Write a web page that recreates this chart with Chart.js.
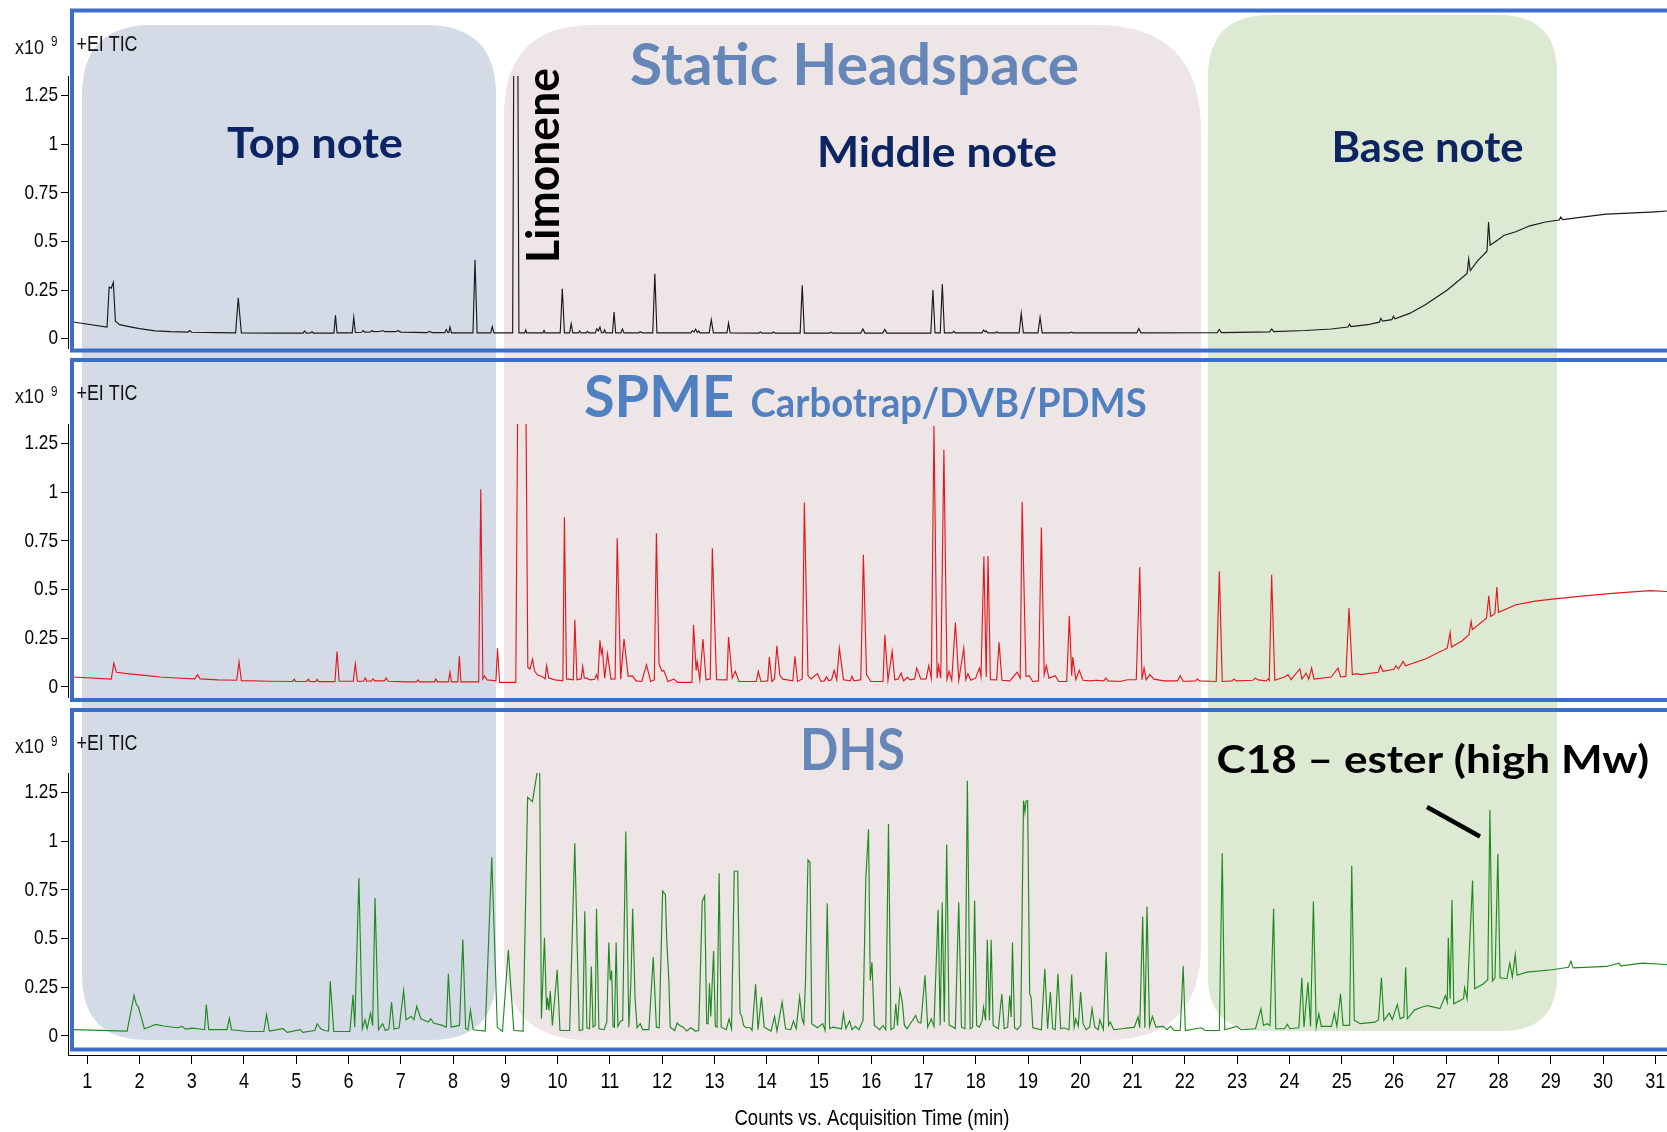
<!DOCTYPE html>
<html><head><meta charset="utf-8">
<script src="https://cdn.jsdelivr.net/npm/chart.js@4/dist/chart.umd.min.js"></script>
<style>
html,body{margin:0;padding:0;background:#fff;width:1667px;height:1132px;overflow:hidden;}
canvas{position:absolute;left:0;}
</style></head><body>
<canvas id="bg" width="1667" height="1132" style="top:0"></canvas>
<canvas id="c1" width="1667" height="354" style="top:0"></canvas>
<canvas id="c2" width="1667" height="350" style="top:354px"></canvas>
<canvas id="c3" width="1667" height="428" style="top:704px"></canvas>
<script>
// ---------------- data (time in min, counts in 1e9) ----------------
const timeTicks = [1,2,3,4,5,6,7,8,9,10,11,12,13,14,15,16,17,18,19,20,21,22,23,24,25,26,27,28,29,30,31];
const countTicks = [0,0.25,0.5,0.75,1,1.25];
const panelNames = ['Static Headspace','SPME','DHS'];

const shsTrace = [[0.73,0.086],[1.38,0.06],[1.42,0.265],[1.46,0.26],[1.50,0.29],[1.54,0.09],[1.62,0.072],[1.8,0.062],[2.0,0.052],[2.3,0.04],[2.6,0.036],[2.93,0.034],[2.96,0.042],[3.0,0.033],[3.5,0.031],[3.84,0.03],[3.89,0.21],[3.95,0.03],[4.6,0.029],[5.13,0.029],[5.16,0.04],[5.19,0.029],[5.27,0.03],[5.30,0.036],[5.33,0.029],[5.72,0.029],[5.75,0.12],[5.78,0.03],[6.07,0.03],[6.10,0.11],[6.13,0.032],[6.25,0.033],[6.28,0.042],[6.31,0.034],[6.42,0.035],[6.45,0.042],[6.48,0.036],[6.6,0.037],[6.65,0.042],[6.7,0.036],[6.9,0.036],[6.95,0.041],[7.0,0.034],[7.5,0.031],[7.55,0.037],[7.6,0.031],[7.84,0.031],[7.87,0.047],[7.9,0.031],[7.92,0.032],[7.94,0.06],[7.97,0.03],[8.38,0.03],[8.42,0.405],[8.46,0.03],[8.72,0.03],[8.75,0.062],[8.78,0.03],[9.14,0.03],[9.16,1.4],[9.24,1.4],[9.26,0.03],[9.37,0.03],[9.39,0.045],[9.41,0.03],[9.72,0.03],[9.74,0.042],[9.76,0.03],[10.05,0.03],[10.09,0.257],[10.13,0.03],[10.23,0.03],[10.26,0.077],[10.29,0.03],[10.4,0.03],[10.42,0.04],[10.45,0.03],[10.55,0.03],[10.57,0.038],[10.6,0.03],[10.72,0.03],[10.75,0.05],[10.78,0.04],[10.81,0.06],[10.84,0.03],[10.88,0.032],[10.9,0.045],[10.92,0.03],[11.05,0.03],[11.08,0.137],[11.11,0.03],[11.21,0.03],[11.24,0.05],[11.27,0.03],[11.55,0.03],[11.58,0.036],[11.62,0.03],[11.82,0.03],[11.86,0.334],[11.9,0.03],[12.55,0.03],[12.58,0.042],[12.61,0.034],[12.64,0.05],[12.67,0.032],[12.7,0.04],[12.72,0.03],[12.9,0.03],[12.94,0.098],[12.98,0.03],[13.24,0.03],[13.27,0.08],[13.3,0.03],[13.85,0.029],[13.88,0.035],[13.91,0.029],[14.1,0.029],[14.13,0.035],[14.16,0.029],[14.64,0.029],[14.68,0.274],[14.72,0.029],[15.2,0.029],[15.23,0.034],[15.26,0.029],[15.8,0.029],[15.84,0.05],[15.88,0.029],[16.22,0.029],[16.26,0.048],[16.3,0.029],[17.14,0.029],[17.18,0.25],[17.22,0.03],[17.32,0.03],[17.36,0.28],[17.4,0.03],[17.55,0.03],[17.58,0.038],[17.61,0.03],[18.12,0.03],[18.15,0.045],[18.18,0.035],[18.2,0.04],[18.23,0.03],[18.38,0.03],[18.4,0.036],[18.43,0.03],[18.83,0.03],[18.87,0.13],[18.91,0.03],[19.19,0.03],[19.23,0.11],[19.27,0.03],[19.8,0.03],[19.83,0.034],[19.86,0.03],[21.08,0.03],[21.12,0.052],[21.16,0.03],[22.62,0.031],[22.66,0.047],[22.7,0.031],[23.62,0.035],[23.66,0.05],[23.7,0.036],[24.3,0.042],[24.8,0.05],[25.12,0.06],[25.15,0.075],[25.18,0.062],[25.5,0.072],[25.72,0.085],[25.75,0.105],[25.78,0.09],[25.96,0.098],[25.99,0.115],[26.02,0.102],[26.3,0.13],[26.6,0.175],[26.8,0.21],[27.02,0.25],[27.2,0.29],[27.4,0.335],[27.43,0.41],[27.46,0.35],[27.6,0.40],[27.78,0.45],[27.81,0.60],[27.84,0.48],[28.0,0.51],[28.1,0.53],[28.33,0.55],[28.6,0.58],[28.9,0.60],[29.16,0.61],[29.19,0.625],[29.23,0.612],[29.6,0.625],[30.06,0.64],[30.5,0.645],[31.0,0.652],[31.22,0.656]];

const spmeTrace = [[0.73,0.05],[1.46,0.039],[1.51,0.121],[1.56,0.074],[1.8,0.066],[2.1,0.058],[2.39,0.05],[2.7,0.045],[3.06,0.04],[3.11,0.062],[3.16,0.04],[3.5,0.035],[3.86,0.033],[3.905,0.127],[3.95,0.031],[4.5,0.028],[4.93,0.027],[4.96,0.038],[4.99,0.027],[5.2,0.027],[5.23,0.038],[5.26,0.027],[5.37,0.026],[5.4,0.038],[5.43,0.026],[5.74,0.026],[5.78,0.181],[5.82,0.028],[6.09,0.028],[6.13,0.118],[6.17,0.028],[6.29,0.028],[6.32,0.045],[6.35,0.028],[6.44,0.03],[6.47,0.04],[6.5,0.03],[6.69,0.03],[6.72,0.045],[6.76,0.028],[7.1,0.025],[7.3,0.025],[7.33,0.035],[7.36,0.025],[7.64,0.025],[7.67,0.04],[7.7,0.025],[7.91,0.025],[7.94,0.074],[7.97,0.025],[8.09,0.025],[8.12,0.156],[8.15,0.025],[8.49,0.025],[8.53,1.015],[8.57,0.04],[8.6,0.056],[8.65,0.035],[8.82,0.03],[8.85,0.198],[8.89,0.022],[9.2,0.022],[9.235,1.4],[9.395,1.4],[9.43,0.10],[9.47,0.09],[9.52,0.142],[9.56,0.079],[9.62,0.06],[9.70,0.053],[9.76,0.04],[9.79,0.108],[9.83,0.044],[9.95,0.035],[10.1,0.03],[10.13,0.871],[10.17,0.04],[10.3,0.035],[10.33,0.344],[10.37,0.035],[10.45,0.04],[10.48,0.104],[10.51,0.044],[10.56,0.044],[10.62,0.035],[10.71,0.038],[10.74,0.062],[10.77,0.04],[10.81,0.238],[10.835,0.17],[10.856,0.193],[10.9,0.044],[10.955,0.169],[11.02,0.039],[11.1,0.04],[11.14,0.763],[11.206,0.039],[11.27,0.245],[11.35,0.053],[11.43,0.056],[11.5,0.03],[11.61,0.027],[11.70,0.113],[11.78,0.027],[11.85,0.035],[11.89,0.789],[11.94,0.12],[11.976,0.091],[12.0,0.08],[12.03,0.084],[12.11,0.027],[12.22,0.039],[12.3,0.022],[12.57,0.022],[12.60,0.318],[12.65,0.084],[12.67,0.13],[12.72,0.036],[12.78,0.245],[12.84,0.036],[12.92,0.04],[12.96,0.712],[13.04,0.036],[13.24,0.035],[13.27,0.255],[13.34,0.044],[13.40,0.079],[13.47,0.027],[13.8,0.027],[13.84,0.079],[13.89,0.027],[14.02,0.03],[14.05,0.152],[14.1,0.027],[14.15,0.04],[14.195,0.21],[14.25,0.06],[14.31,0.039],[14.5,0.03],[14.54,0.156],[14.59,0.027],[14.68,0.04],[14.72,0.946],[14.79,0.056],[14.85,0.04],[14.97,0.067],[15.04,0.027],[15.1,0.03],[15.145,0.05],[15.19,0.03],[15.24,0.035],[15.29,0.084],[15.34,0.036],[15.39,0.198],[15.47,0.036],[15.6,0.03],[15.63,0.053],[15.67,0.03],[15.80,0.036],[15.85,0.678],[15.91,0.062],[15.995,0.027],[16.225,0.027],[16.26,0.267],[16.32,0.033],[16.40,0.181],[16.45,0.036],[16.52,0.04],[16.57,0.07],[16.62,0.03],[16.69,0.048],[16.75,0.035],[16.83,0.04],[16.87,0.096],[16.95,0.039],[17.05,0.04],[17.10,0.108],[17.15,0.044],[17.20,1.34],[17.26,0.044],[17.29,0.108],[17.33,0.044],[17.39,1.217],[17.45,0.039],[17.49,0.079],[17.54,0.033],[17.61,0.33],[17.675,0.033],[17.77,0.198],[17.81,0.036],[17.85,0.067],[17.905,0.033],[18.0,0.045],[18.07,0.096],[18.10,0.053],[18.155,0.669],[18.20,0.05],[18.234,0.672],[18.28,0.036],[18.4,0.035],[18.445,0.228],[18.5,0.033],[18.65,0.03],[18.79,0.074],[18.85,0.044],[18.887,0.951],[18.96,0.053],[19.025,0.056],[19.09,0.027],[19.2,0.03],[19.255,0.818],[19.31,0.062],[19.35,0.108],[19.40,0.044],[19.52,0.056],[19.585,0.027],[19.74,0.027],[19.79,0.364],[19.835,0.056],[19.855,0.152],[19.915,0.036],[19.98,0.084],[20.05,0.033],[20.2,0.03],[20.3,0.033],[20.45,0.03],[20.49,0.045],[20.53,0.03],[20.76,0.027],[20.9,0.036],[21.07,0.036],[21.137,0.614],[21.18,0.036],[21.22,0.096],[21.26,0.036],[21.33,0.062],[21.41,0.039],[21.6,0.03],[21.86,0.03],[21.91,0.056],[21.97,0.027],[22.2,0.03],[22.24,0.039],[22.28,0.03],[22.6,0.027],[22.66,0.592],[22.715,0.027],[22.9,0.03],[22.94,0.039],[22.98,0.03],[23.3,0.033],[23.35,0.044],[23.4,0.035],[23.55,0.03],[23.6,0.04],[23.615,0.033],[23.66,0.575],[23.72,0.033],[23.905,0.05],[23.975,0.062],[24.03,0.036],[24.20,0.091],[24.24,0.039],[24.32,0.07],[24.37,0.039],[24.425,0.096],[24.47,0.039],[24.80,0.05],[24.93,0.096],[24.98,0.05],[25.08,0.053],[25.14,0.404],[25.205,0.062],[25.30,0.067],[25.36,0.062],[25.70,0.074],[25.74,0.108],[25.79,0.079],[26.0,0.09],[26.04,0.108],[26.085,0.091],[26.175,0.13],[26.22,0.108],[26.6,0.142],[27.02,0.198],[27.075,0.279],[27.10,0.204],[27.3,0.235],[27.435,0.267],[27.476,0.335],[27.50,0.293],[27.77,0.352],[27.815,0.467],[27.85,0.361],[27.93,0.375],[27.97,0.512],[28.00,0.382],[28.335,0.421],[28.7,0.44],[29.03,0.45],[29.5,0.463],[30.065,0.477],[30.5,0.486],[30.90,0.494],[31.23,0.489]];

const dhsTrace = [[0.73,0.031],[1.764,0.024],[1.896,0.207],[1.942,0.16],[1.98,0.147],[2.094,0.036],[2.19,0.045],[2.31,0.058],[2.456,0.05],[2.72,0.041],[2.818,0.048],[2.884,0.034],[3.016,0.039],[3.246,0.031],[3.279,0.16],[3.325,0.031],[3.675,0.031],[3.721,0.09],[3.76,0.031],[4.07,0.022],[4.38,0.022],[4.432,0.109],[4.485,0.024],[4.748,0.036],[4.827,0.017],[5.078,0.031],[5.124,0.017],[5.355,0.027],[5.40,0.062],[5.473,0.034],[5.552,0.027],[5.618,0.024],[5.65,0.281],[5.717,0.022],[6.026,0.022],[6.086,0.21],[6.119,0.044],[6.198,0.811],[6.264,0.036],[6.316,0.082],[6.356,0.036],[6.422,0.116],[6.461,0.053],[6.507,0.708],[6.573,0.031],[6.652,0.062],[6.705,0.027],[6.771,0.034],[6.823,0.173],[6.87,0.034],[6.968,0.041],[7.054,0.233],[7.10,0.082],[7.199,0.099],[7.252,0.082],[7.304,0.151],[7.383,0.087],[7.528,0.07],[7.574,0.087],[7.627,0.065],[7.792,0.053],[7.871,0.044],[7.91,0.318],[7.963,0.044],[8.122,0.053],[8.187,0.494],[8.24,0.036],[8.286,0.031],[8.332,0.13],[8.385,0.031],[8.615,0.024],[8.74,0.917],[8.846,0.044],[8.945,0.022],[9.057,0.44],[9.162,0.027],[9.34,0.024],[9.426,1.225],[9.518,1.203],[9.604,1.345],[9.656,1.4],[9.69,0.087],[9.748,0.503],[9.788,0.133],[9.808,0.195],[9.834,0.13],[9.86,0.23],[9.90,0.053],[9.953,0.216],[9.992,0.339],[10.045,0.027],[10.23,0.027],[10.328,0.989],[10.414,0.027],[10.48,0.031],[10.52,0.64],[10.56,0.041],[10.61,0.036],[10.645,0.356],[10.678,0.044],[10.718,0.053],[10.744,0.652],[10.79,0.036],[10.89,0.031],[10.94,0.07],[10.98,0.479],[11.008,0.284],[11.034,0.335],[11.06,0.048],[11.087,0.044],[11.12,0.479],[11.153,0.048],[11.205,0.075],[11.245,0.079],[11.304,1.05],[11.363,0.044],[11.403,0.284],[11.436,0.652],[11.482,0.19],[11.52,0.041],[11.58,0.062],[11.627,0.031],[11.746,0.031],[11.83,0.404],[11.89,0.044],[11.943,0.041],[12.009,0.743],[12.062,0.725],[12.088,0.489],[12.128,0.284],[12.154,0.044],[12.24,0.027],[12.286,0.065],[12.34,0.053],[12.404,0.044],[12.47,0.024],[12.55,0.041],[12.635,0.024],[12.70,0.027],[12.767,0.691],[12.813,0.719],[12.852,0.062],[12.879,0.062],[12.905,0.27],[12.93,0.099],[12.984,0.435],[13.017,0.048],[13.05,0.044],[13.09,0.835],[13.13,0.044],[13.228,0.031],[13.28,0.087],[13.327,0.036],[13.379,0.845],[13.445,0.845],[13.49,0.116],[13.524,0.099],[13.557,0.053],[13.603,0.041],[13.689,0.041],[13.72,0.027],[13.788,0.264],[13.834,0.031],[13.90,0.20],[13.952,0.044],[14.084,0.024],[14.15,0.099],[14.196,0.024],[14.295,0.173],[14.36,0.036],[14.46,0.031],[14.512,0.075],[14.565,0.036],[14.63,0.20],[14.677,0.087],[14.71,0.062],[14.743,0.284],[14.79,0.903],[14.829,0.891],[14.862,0.062],[14.908,0.053],[14.974,0.041],[15.072,0.062],[15.118,0.027],[15.158,0.681],[15.204,0.036],[15.27,0.044],[15.43,0.035],[15.468,0.116],[15.514,0.036],[15.586,0.075],[15.632,0.031],[15.698,0.048],[15.764,0.031],[15.843,0.079],[15.896,0.806],[15.948,1.06],[15.981,0.284],[16.014,0.378],[16.06,0.053],[16.16,0.031],[16.225,0.053],[16.278,0.031],[16.33,1.088],[16.377,0.031],[16.436,0.041],[16.469,0.164],[16.502,0.053],[16.548,0.236],[16.594,0.173],[16.634,0.053],[16.686,0.036],[16.85,0.104],[16.897,0.07],[16.95,0.065],[17.029,0.31],[17.08,0.044],[17.148,0.087],[17.2,0.048],[17.279,0.647],[17.319,0.053],[17.358,0.686],[17.398,0.07],[17.444,0.982],[17.49,0.053],[17.543,0.048],[17.608,0.036],[17.674,0.686],[17.727,0.044],[17.793,0.036],[17.839,1.31],[17.892,0.036],[17.938,0.044],[17.978,0.695],[18.017,0.053],[18.07,0.044],[18.122,0.079],[18.149,0.147],[18.188,0.079],[18.221,0.493],[18.261,0.079],[18.294,0.493],[18.333,0.053],[18.432,0.036],[18.498,0.216],[18.544,0.036],[18.61,0.044],[18.65,0.207],[18.676,0.096],[18.702,0.479],[18.742,0.041],[18.794,0.031],[18.86,0.053],[18.913,1.208],[18.94,1.148],[18.959,1.205],[18.992,1.208],[19.031,0.216],[19.058,0.198],[19.091,0.041],[19.255,0.031],[19.321,0.344],[19.374,0.036],[19.427,0.224],[19.473,0.036],[19.519,0.031],[19.572,0.318],[19.624,0.036],[19.684,0.041],[19.783,0.031],[19.835,0.315],[19.881,0.044],[19.914,0.087],[19.96,0.048],[20.006,0.224],[20.053,0.062],[20.112,0.031],[20.178,0.044],[20.224,0.139],[20.277,0.044],[20.342,0.031],[20.375,0.082],[20.441,0.031],[20.494,0.43],[20.54,0.053],[20.573,0.07],[20.64,0.031],[20.79,0.036],[21.033,0.044],[21.103,0.096],[21.137,0.041],[21.193,0.613],[21.234,0.041],[21.276,0.664],[21.324,0.048],[21.379,0.099],[21.449,0.044],[21.587,0.048],[21.656,0.031],[21.725,0.048],[21.795,0.027],[21.912,0.027],[21.968,0.358],[22.009,0.027],[22.314,0.041],[22.383,0.027],[22.66,0.027],[22.715,0.938],[22.763,0.031],[22.992,0.048],[23.075,0.031],[23.352,0.036],[23.456,0.139],[23.504,0.053],[23.573,0.062],[23.629,0.053],[23.698,0.652],[23.739,0.036],[23.905,0.036],[23.961,0.058],[24.009,0.036],[24.182,0.041],[24.238,0.298],[24.279,0.044],[24.355,0.275],[24.404,0.048],[24.459,0.69],[24.514,0.044],[24.563,0.113],[24.611,0.048],[24.805,0.048],[24.86,0.116],[24.909,0.048],[24.978,0.216],[25.027,0.053],[25.151,0.053],[25.193,0.874],[25.241,0.079],[25.359,0.062],[25.636,0.07],[25.705,0.082],[25.76,0.298],[25.808,0.079],[25.912,0.116],[25.968,0.082],[26.065,0.161],[26.12,0.087],[26.189,0.096],[26.224,0.352],[26.258,0.087],[26.397,0.133],[26.5,0.144],[26.639,0.155],[26.881,0.139],[26.985,0.207],[27.02,0.172],[27.04,0.503],[27.075,0.19],[27.11,0.698],[27.144,0.164],[27.331,0.19],[27.352,0.246],[27.4,0.19],[27.504,0.797],[27.546,0.241],[27.712,0.267],[27.795,0.288],[27.836,1.16],[27.885,0.281],[27.933,0.298],[27.988,0.934],[28.03,0.298],[28.161,0.293],[28.217,0.373],[28.265,0.301],[28.32,0.417],[28.355,0.311],[28.542,0.327],[29.026,0.339],[29.338,0.352],[29.386,0.383],[29.428,0.349],[30.065,0.356],[30.307,0.373],[30.342,0.359],[30.757,0.373],[31.227,0.366]];

// ---------------- layout / style ----------------
const X_MIN = 0.633, X_MAX = 31.224;
const SANS = "'Liberation Sans',Arial,sans-serif";
const NARROW_K = 0.82;
const TITLEF = "Lato,'Open Sans',sans-serif";
const FRAME = '#3a6ec8';

// background note boxes
(function(){
  const c = document.getElementById('bg').getContext('2d');
  function rr(x0,y0,x1,y1,r,col){
    const [tl,tr,br,bl]=r;
    c.beginPath();
    c.moveTo(x0+tl,y0); c.lineTo(x1-tr,y0); c.quadraticCurveTo(x1,y0,x1,y0+tr);
    c.lineTo(x1,y1-br); c.quadraticCurveTo(x1,y1,x1-br,y1);
    c.lineTo(x0+bl,y1); c.quadraticCurveTo(x0,y1,x0,y1-bl);
    c.lineTo(x0,y0+tl); c.quadraticCurveTo(x0,y0,x0+tl,y0);
    c.closePath(); c.fillStyle=col; c.fill();
  }
  c.save(); c.shadowColor='rgba(255,255,255,0.9)'; c.shadowBlur=6;
  rr(82,25,496,1040,[70,70,65,65],'#d4dbe7');
  rr(504,25,1201,1040,[90,105,95,85],'#ede5e6');
  rr(1208,15,1557,1031,[62,58,55,55],'#dde9d3');
  c.restore();
})();

function fitText(ctx,text,x,y,w,size,color,weight,family,rot,baseline){
  ctx.save();
  ctx.font = weight+' '+size+'px '+family;
  const m = ctx.measureText(text).width;
  ctx.translate(x,y); if(rot) ctx.rotate(rot);
  ctx.scale(w/m,1);
  ctx.fillStyle=color; ctx.textAlign='left'; ctx.textBaseline=baseline||'alphabetic';
  ctx.fillText(text,0,0);
  ctx.restore();
}

// tick labels drawn from Chart.js label items, in a narrow (condensed) rendering
function narrowLabels(chartArea){
  const ctx = this.ctx;
  const items = this.getLabelItems(chartArea);
  for (const item of items){
    const o = item.options;
    ctx.save();
    ctx.translate(o.translation[0], o.translation[1]);
    if (o.rotation) ctx.rotate(o.rotation);
    ctx.scale(NARROW_K,1);
    ctx.font = item.font.string;
    ctx.fillStyle = o.color;
    ctx.textAlign = o.textAlign;
    ctx.textBaseline = o.textBaseline;
    ctx.fillText(item.label, 0, item.textOffset);
    ctx.restore();
  }
}
function narrowTitle(){
  const t = this.options.title;
  if (!t.display) return;
  const ctx = this.ctx;
  ctx.save();
  ctx.font = 'normal '+t.font.size+'px '+SANS;
  const m = ctx.measureText(t.text).width;
  const w = 275, cx = 872, cy = this.bottom - 13.5;
  ctx.translate(cx - w/2, cy);
  ctx.scale(w/m,1);
  ctx.fillStyle = t.color; ctx.textAlign='left'; ctx.textBaseline='middle';
  ctx.fillText(t.text,0,0);
  ctx.restore();
}

function panelPlugin(top, frameTop, frameBottom, extra){
  return {
    id:'deco',
    afterDraw(chart){
      const ctx = chart.ctx;
      ctx.save();
      ctx.translate(0,-top);
      ctx.strokeStyle=FRAME; ctx.lineWidth=4;
      ctx.strokeRect(72,frameTop,1640,frameBottom-frameTop);
      fitText(ctx,'x10',15,frameTop+43,29,21,'#111','normal',SANS);
      fitText(ctx,'9',51,frameTop+35.5,6.5,15,'#111','normal',SANS);
      fitText(ctx,'+EI TIC',76.5,frameTop+40,61,22,'#111','normal',SANS);
      extra(ctx);
      ctx.restore();
    }
  };
}

function makeChart(id, trace, color, cfg){
  const xScale = {
    type:'linear', min:X_MIN, max:X_MAX, display:cfg.showX,
    border:{display:true,color:'#000',width:1},
    grid:{drawOnChartArea:false,drawTicks:true,tickLength:9,color:'#000'},
    ticks:{font:{family:SANS,size:22},color:'#000',padding:5,autoSkip:false,maxRotation:0,callback:v=>String(v)},
    title:{display:cfg.showX,text:'Counts vs. Acquisition Time (min)',font:{family:SANS,size:22},color:'#000',padding:{top:0,bottom:2}},
    afterBuildTicks:s=>{s.ticks=timeTicks.map(v=>({value:v}));},
    afterFit:s=>{ if(cfg.showX){s.height=cfg.xHeight;} s.paddingLeft=0; s.paddingRight=0; },
    afterUpdate:s=>{ s.drawLabels=narrowLabels; s.drawTitle=narrowTitle; }
  };
  return new Chart(document.getElementById(id),{
    type:'line',
    data:{datasets:[{label:cfg.name,data:trace.map(p=>({x:p[0],y:p[1]})),borderColor:color,borderWidth:1.15,pointRadius:0,tension:0,fill:false}]},
    options:{
      responsive:false, animation:false, events:[], normalized:true,
      layout:{padding:{top:cfg.padTop,bottom:cfg.padBottom,left:0,right:0}},
      plugins:{legend:{display:false},tooltip:{enabled:false},title:{display:false}},
      scales:{
        x:xScale,
        y:{type:'linear',min:cfg.yMin,max:1.35,
          border:{display:true,color:'#000',width:1},
          grid:{drawOnChartArea:false,drawTicks:true,tickLength:7,color:'#000'},
          ticks:{font:{family:SANS,size:21},color:'#000',padding:3,callback:v=>String(v)},
          afterBuildTicks:s=>{s.ticks=countTicks.map(v=>({value:v}));},
          afterFit:s=>{s.width=68;s.paddingTop=0;s.paddingBottom=0;},
          afterUpdate:s=>{ s.drawLabels=narrowLabels; }
        }
      }
    },
    plugins:[panelPlugin(cfg.top,cfg.frameTop,cfg.frameBottom,cfg.extra)]
  });
}

const NAVY='#0c2461', STEEL='#6686b8', SPMEBLUE='#5080c0';

makeChart('c1', shsTrace, '#1a1a1a', {name:panelNames[0],top:0,padTop:76,padBottom:6,yMin:-0.0478,showX:false,frameTop:10.5,frameBottom:350.5,
  extra:ctx=>{
    fitText(ctx,'Static Headspace',630,85,449,58,STEEL,'bold',TITLEF);
    fitText(ctx,'Top note',227,158,176,42,NAVY,'bold',TITLEF);
    fitText(ctx,'Middle note',817,166.7,240,42,NAVY,'bold',TITLEF);
    fitText(ctx,'Base note',1331.5,161.7,192,42,NAVY,'bold',TITLEF);
    fitText(ctx,'Limonene',558.5,263,195,45,'#000','bold',TITLEF,-Math.PI/2);
  }});
makeChart('c2', spmeTrace, '#e3191f', {name:panelNames[1],top:354,padTop:70,padBottom:7,yMin:-0.0529,showX:false,frameTop:360,frameBottom:700,
  extra:ctx=>{
    fitText(ctx,'SPME',584,416.7,150,58,SPMEBLUE,'bold',TITLEF);
    fitText(ctx,'Carbotrap/DVB/PDMS',750.6,416.7,396,40,SPMEBLUE,'bold',TITLEF);
  }});
makeChart('c3', dhsTrace, '#1f8a1f', {name:panelNames[2],top:704,padTop:69,padBottom:0,yMin:-0.099,showX:true,xHeight:77,frameTop:710,frameBottom:1049.5,
  extra:ctx=>{
    fitText(ctx,'DHS',800,770,105,58,STEEL,'bold',TITLEF);
    fitText(ctx,'C18 – ester (high Mw)',1216.5,773,432.5,39,'#000','bold',TITLEF);
    ctx.save(); ctx.strokeStyle='#000'; ctx.lineWidth=4.5; ctx.lineCap='butt';
    ctx.beginPath(); ctx.moveTo(1427,807); ctx.lineTo(1480,836.5); ctx.stroke(); ctx.restore();
  }});
</script>
</body></html>
